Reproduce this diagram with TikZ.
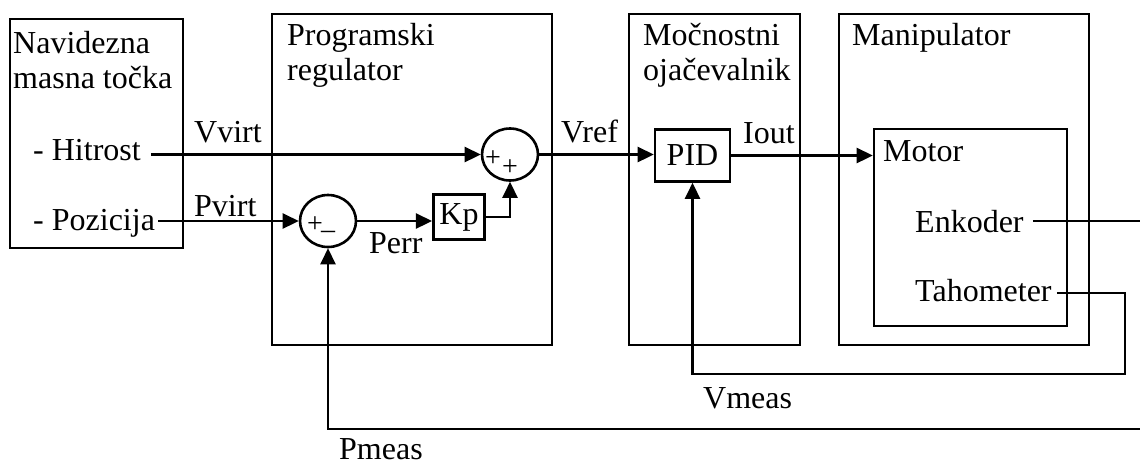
\documentclass[tikz,border=0pt]{standalone}
\usepackage{fontspec}
\setmainfont{Liberation Serif}
\usetikzlibrary{arrows.meta,fit,shapes.geometric}
\begin{document}
\begin{tikzpicture}[x=1pt,y=-1pt,
  box/.style={draw, line width=2.6pt, inner sep=0pt},
  lbl/.style={inner sep=0pt, font=\fontsize{32}{34}\selectfont, anchor=base west},
  blk/.style={draw, line width=2.6pt, inner sep=0pt, font=\fontsize{32}{34}\selectfont},
  sumnode/.style={draw, ellipse, line width=2.6pt, minimum width=56pt, minimum height=52pt, inner sep=0pt},
  sign/.style={inner sep=0pt, font=\fontsize{28}{28}\selectfont},
  ln/.style={line width=2.6pt},
  arr/.style={line width=2.6pt, -{Triangle[length=16pt,width=15pt]}}]
\useasboundingbox (0,0) rectangle (1140,464);
\clip (0,0) rectangle (1140,464);

% container boxes
\node (nav) [box, fit={(10,19)(183,248)}] {};
\node (prog) [box, fit={(272,14)(552,345)}] {};
\node (moc) [box, fit={(629,14)(800,345)}] {};
\node (man) [box, fit={(839,14)(1089,345)}] {};
\node (motor) [box, fit={(874,129)(1067,326)}] {};

% box titles
\node (t1a) [lbl] at (13,53) {Navidezna};
\node (t1b) [lbl] at (13,88) {masna točka};
\node (hit) [lbl] at (33,160) {- Hitrost};
\node (poz) [lbl] at (33,230) {- Pozicija};
\node (t2a) [lbl] at (287,45) {Programski};
\node (t2b) [lbl] at (287,80) {regulator};
\node (t3a) [lbl] at (643,45) {Močnostni};
\node (t3b) [lbl] at (643,80) {ojačevalnik};
\node (t4) [lbl] at (852,45) {Manipulator};
\node (mot) [lbl] at (883,161) {Motor};
\node (enk) [lbl] at (915,232) {Enkoder};
\node (tah) [lbl] at (915,301) {Tahometer};

% signal labels
\node (vvirt) [lbl] at (194,142) {Vvirt};
\node (pvirt) [lbl] at (194,216) {Pvirt};
\node (perr) [lbl] at (369,253) {Perr};
\node (vref) [lbl] at (561,142) {Vref};
\node (iout) [lbl] at (743,143) {Iout};
\node (vmeas) [lbl] at (703,408) {Vmeas};
\node (pmeas) [lbl] at (339,459) {Pmeas};

% summing junctions
\node (sum1) [sumnode] at (510,154.5) {};
\node (sum2) [sumnode] at (328,221) {};
\node (s1a) [sign] at (493,159) {+};
\node (s1b) [sign] at (510,168) {+};
\node (s2a) [sign] at (315,225) {+};
\node (s2b) [sign] at (328,235) {–};

% blocks
\node (kp) [blk, minimum width=51.5pt, minimum height=45.5pt] at (459,217) {Kp};
\node (pid) [blk, minimum width=75pt, minimum height=52pt] at (692.5,155.5) {PID};

% connectors
\draw[arr] ([xshift=10pt]hit.east |- sum1) -- (sum1.west);
\draw[arr] ([xshift=3pt]poz.east |- sum2) -- (sum2.west);
\draw[arr] (sum2.east) -- (sum2 -| kp.west);
\draw[arr] (kp.east) -| (sum1.south);
\draw[arr] (sum1.east) -- (sum1 -| pid.west);
\draw[arr] (pid.east) -- (pid.east -| motor.west);
\draw[arr] ([xshift=5pt,yshift=8pt]tah.base east) -- (1125,293) -- (1125,374) -| (pid.south);
\draw[arr] ([xshift=9pt,yshift=11pt]enk.base east) -- (1150,221) -- (1150,429) -| (sum2.south);
\end{tikzpicture}
\end{document}
